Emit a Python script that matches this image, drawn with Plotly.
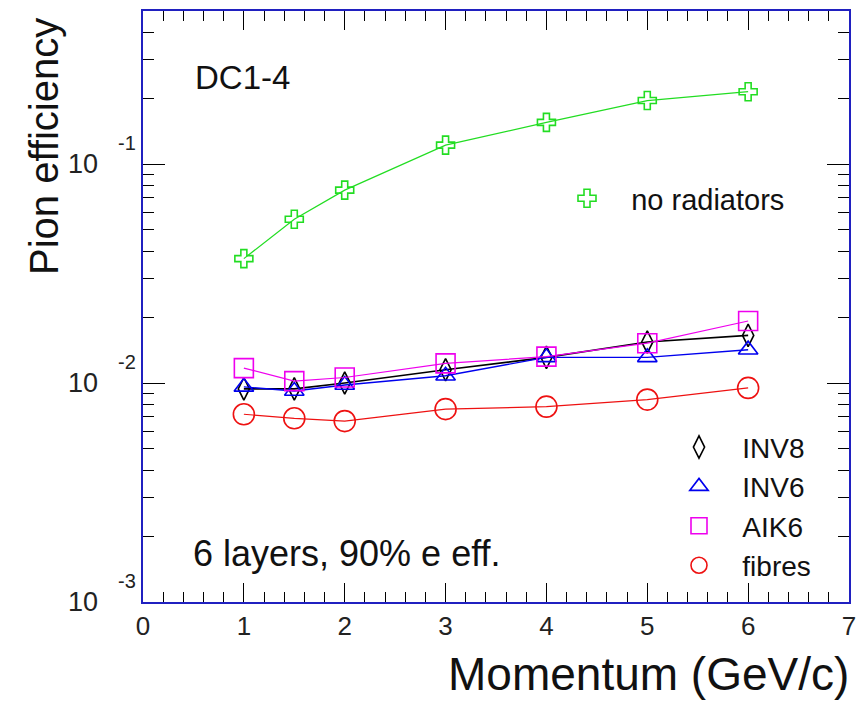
import plotly.graph_objects as go

# Momentum points (GeV/c)
momentum = [1, 1.5, 2, 3, 4, 5, 6]

# Pion efficiency for each radiator configuration
no_radiators = [0.037, 0.056, 0.076, 0.122, 0.155, 0.195, 0.214]
inv8 = [0.0094, 0.0094, 0.0100, 0.0115, 0.0131, 0.0154, 0.0165]
inv6 = [0.0096, 0.0092, 0.0098, 0.0108, 0.0131, 0.0131, 0.0142]
aik6 = [0.0117, 0.0102, 0.0106, 0.0123, 0.0132, 0.0152, 0.0192]
fibres = [0.0072, 0.0069, 0.0067, 0.0076, 0.0078, 0.0084, 0.0095]

x_ticks = [0, 1, 2, 3, 4, 5, 6, 7]
y_decades = [-3, -2, -1]

FONT = "Liberation Sans, Arial, sans-serif"
AXIS_BLUE = "#2020c0"
# spacer placed between a legend symbol and its label
PAD = "<span>&nbsp;&nbsp;&nbsp;</span>"

W, H = 865, 701
L, R, T, B = 143, 16, 9, 99

fig = go.Figure()

series = [
    ("no radiators", no_radiators, "#22dd22", "cross-open", 15, 1.2, "legend"),
    ("INV8", inv8, "#000000", "diamond-tall-open", 16, 1.6, "legend2"),
    ("INV6", inv6, "#0000ee", "triangle-up-open", 17, 1.4, "legend2"),
    ("AIK6", aik6, "#ee00ee", "square-open", 19, 1.2, "legend2"),
    ("fibres", fibres, "#ee1111", "circle-open", 21, 1.2, "legend2"),
]

# data curves (markers joined by lines)
for name, vals, color, sym, size, lw, _ in series:
    fig.add_trace(go.Scatter(
        x=momentum, y=vals, mode="lines+markers", name=name,
        line=dict(color=color, width=lw),
        marker=dict(symbol=sym, size=size, color=color, line=dict(width=1.6, color=color)),
        showlegend=False, hoverinfo="skip",
    ))

# legend keys: marker only
for i, (name, vals, color, sym, size, lw, leg) in enumerate(series):
    fig.add_trace(go.Scatter(
        x=[None], y=[None], mode="markers", name=PAD + name, legend=leg,
        legendgroup=f"g{i}",
        marker=dict(symbol=sym, size=min(size, 16), color=color,
                    line=dict(width=1.6, color=color)),
    ))

annotations = []
# log-axis tick labels: "10" with exponent
for d in y_decades:
    annotations.append(dict(x=0, xref="paper", y=d, yref="y", text="10",
                            showarrow=False, xanchor="right", yanchor="middle",
                            xshift=-43, font=dict(family=FONT, size=27, color="#222")))
    annotations.append(dict(x=0, xref="paper", y=d, yref="y", text=str(d),
                            showarrow=False, xanchor="right", yanchor="middle",
                            xshift=-5, yshift=21, font=dict(family=FONT, size=20, color="#222")))

annotations += [
    dict(x=1, xref="paper", y=0, yref="paper", text="Momentum (GeV/c)", showarrow=False,
         xanchor="right", yanchor="middle", yshift=-72, xshift=2,
         font=dict(family=FONT, size=46, color="#111")),
    dict(x=0, xref="paper", y=1, yref="paper", text="Pion efficiency", showarrow=False,
         textangle=-90, xanchor="center", yanchor="middle", xshift=-99, yshift=-136,
         font=dict(family=FONT, size=40, color="#111")),
    dict(x=0, xref="paper", y=1, yref="paper", text="DC1-4", showarrow=False,
         xanchor="left", yanchor="middle", xshift=50, yshift=-66,
         font=dict(family=FONT, size=33, color="#111")),
    dict(x=0, xref="paper", y=0, yref="paper", text="6 layers, 90% e eff.", showarrow=False,
         xanchor="left", yanchor="middle", xshift=48, yshift=49,
         font=dict(family=FONT, size=36, color="#111")),
]

fig.update_layout(
    width=W, height=H,
    margin=dict(l=L, r=R, t=T, b=B),
    paper_bgcolor="white", plot_bgcolor="white",
    annotations=annotations,
    legend=dict(x=(567 - L) / (W - L - R), y=(H - B - 197) / (H - T - B),
                xanchor="left", yanchor="middle", bgcolor="rgba(0,0,0,0)",
                font=dict(family=FONT, size=29, color="#111")),
    legend2=dict(x=(679 - L) / (W - L - R), y=(H - B - 506) / (H - T - B),
                 xanchor="left", yanchor="middle", bgcolor="rgba(0,0,0,0)",
                 font=dict(family=FONT, size=28, color="#111"),
                 tracegroupgap=0),
    xaxis=dict(
        range=[0, 7], tickvals=x_ticks, ticks="inside", ticklen=19, tickwidth=1.2,
        tickcolor="black", showline=True, linecolor=AXIS_BLUE, linewidth=1.5,
        mirror="ticks", showgrid=False, zeroline=False,
        tickfont=dict(family=FONT, size=26, color="#222"),
        minor=dict(dtick=0.2, ticks="inside", ticklen=10, tickcolor="black", tickwidth=1.2,
                   showgrid=False),
    ),
    yaxis=dict(
        type="log", range=[-3, -0.30103], dtick=1, tick0=0, ticks="inside", ticklen=22,
        tickwidth=1.2, tickcolor="black", showline=True, linecolor=AXIS_BLUE, linewidth=1.5,
        mirror="ticks", showgrid=False, zeroline=False, showticklabels=False,
        minor=dict(dtick="D1", ticks="inside", ticklen=11, tickcolor="black", tickwidth=1.2,
                   showgrid=False),
    ),
)

fig.write_html("out.html")
